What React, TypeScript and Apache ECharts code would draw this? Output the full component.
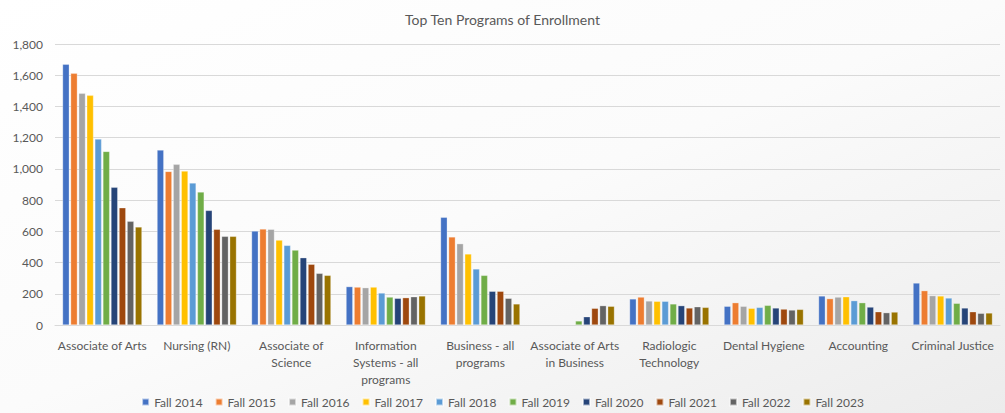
import React, { useEffect, useRef } from "react";
import * as echarts from "echarts";

const categories = [
  "Associate of Arts",
  "Nursing (RN)",
  "Associate of\nScience",
  "Information\nSystems - all\nprograms",
  "Business - all\nprograms",
  "Associate of Arts\nin Business",
  "Radiologic\nTechnology",
  "Dental Hygiene",
  "Accounting",
  "Criminal Justice",
];

const seriesNames = [
  "Fall 2014", "Fall 2015", "Fall 2016", "Fall 2017", "Fall 2018",
  "Fall 2019", "Fall 2020", "Fall 2021", "Fall 2022", "Fall 2023",
];

// values per program, Fall 2014 .. Fall 2023
const assocArts = [1670, 1612, 1484, 1471, 1191, 1112, 882, 751, 664, 628];
const nursing = [1121, 984, 1029, 986, 910, 852, 734, 613, 568, 568];
const assocScience = [602, 615, 613, 544, 510, 480, 431, 389, 331, 318];
const infoSystems = [246, 243, 239, 243, 205, 179, 171, 175, 181, 186];
const business = [690, 564, 521, 455, 359, 318, 216, 216, 171, 135];
const assocArtsBusiness = [null, null, null, null, null, 26, 53, 107, 124, 120];
const radiologic = [167, 179, 154, 152, 152, 135, 124, 109, 117, 113];
const dental = [120, 143, 120, 107, 113, 126, 109, 102, 96, 100];
const accounting = [186, 169, 179, 181, 156, 143, 115, 85, 79, 83];
const criminal = [269, 220, 188, 186, 173, 139, 109, 85, 75, 77];

const programs = [
  assocArts, nursing, assocScience, infoSystems, business,
  assocArtsBusiness, radiologic, dental, accounting, criminal,
];

const colors = [
  "#4472C4", "#ED7D31", "#A5A5A5", "#FFC000", "#5B9BD5",
  "#70AD47", "#264478", "#9E480E", "#636363", "#997300",
];

const yTicks = [0, 200, 400, 600, 800, 1000, 1200, 1400, 1600, 1800];

const FONT = "Lato, 'Open Sans', sans-serif";

export default function App() {
  const ref = useRef<HTMLDivElement>(null);
  useEffect(() => {
    if (!ref.current) return;
    const chart = echarts.init(ref.current, undefined, { renderer: "svg" });
    chart.setOption({
      animation: false,
      backgroundColor: {
        type: "linear", x: 0, y: 0, x2: 1, y2: 1,
        colorStops: [
          { offset: 0, color: "#ffffff" },
          { offset: 0.5, color: "#fbfbfb" },
          { offset: 1, color: "#ececec" },
        ],
      },
      color: colors,
      title: {
        text: "Top Ten Programs of Enrollment",
        left: "center",
        top: 7,
        textStyle: { fontFamily: FONT, fontSize: 14, fontWeight: "normal", color: "#595959" },
      },
      legend: {
        bottom: 0,
        left: "center",
        itemWidth: 7,
        itemHeight: 7,
        itemGap: 12,
        icon: "rect",
        textStyle: { fontFamily: FONT, fontSize: 12, color: "#595959" },
        data: seriesNames,
      },
      grid: { left: 55, right: 5, top: 44, bottom: 88, containLabel: false },
      xAxis: {
        type: "category",
        data: categories,
        axisLine: { lineStyle: { color: "#d9d9d9" } },
        axisTick: { show: false },
        axisLabel: {
          interval: 0,
          fontFamily: FONT,
          fontSize: 12,
          color: "#595959",
          lineHeight: 17,
          margin: 12,
        },
      },
      yAxis: {
        type: "value",
        min: yTicks[0],
        max: yTicks[yTicks.length - 1],
        interval: 200,
        axisLine: { show: false },
        axisTick: { show: false },
        splitLine: { lineStyle: { color: "#d9d9d9" } },
        axisLabel: {
          fontFamily: FONT,
          fontSize: 12,
          color: "#595959",
          margin: 12,
          formatter: (v: number) => v.toLocaleString("en-US"),
        },
      },
      series: seriesNames.map((name, i) => ({
        name,
        type: "bar",
        barGap: "20%",
        barCategoryGap: "16%",
        itemStyle: { color: colors[i], borderColor: "rgba(255,255,255,0.6)", borderWidth: 0.5 },
        data: programs.map((p) => p[i]),
      })),
    });
    return () => chart.dispose();
  }, []);
  return (
    <div
      ref={ref}
      style={{ position: "absolute", left: 0, top: 0, width: 1005, height: 413 }}
    />
  );
}
